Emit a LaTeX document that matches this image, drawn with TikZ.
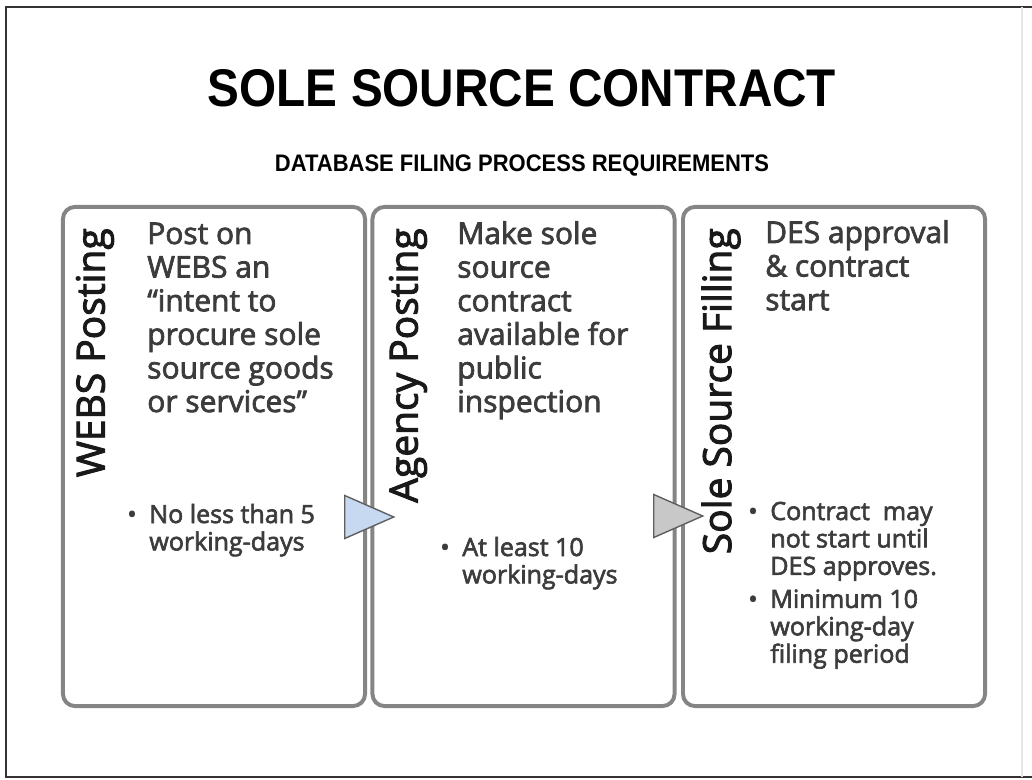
\documentclass[tikz,border=0pt]{standalone}
\usepackage{fontspec}
\setmainfont{Open Sans}
\newfontfamily\stepfont[FakeBold=2.5]{Open Sans}
\newfontfamily\headfont[FakeStretch=0.9]{Liberation Sans}
\newfontfamily\subheadfont[FakeStretch=0.92]{Liberation Sans}
\usetikzlibrary{shapes.geometric,positioning}
\definecolor{boxgray}{HTML}{858585}
\definecolor{textgray}{HTML}{3C3C3C}
\definecolor{tipblue}{HTML}{C6D9F1}
\definecolor{tipgray}{HTML}{C8C8C8}
\definecolor{tipline}{HTML}{5F5F5F}

\begin{document}
\begin{tikzpicture}
[x=0.025cm, y=-0.025cm,
  stepbox/.style={rectangle, rounded corners=0.3cm, minimum width=7.55cm, minimum height=12.475cm, draw=boxgray, line width=2.8pt},
  steplabel/.style={rotate=90, anchor=east, inner sep=0pt, text=black!90, font=\stepfont\fontsize{27.7}{30}\selectfont},
  steptext/.style={anchor=base west, inner sep=0pt, text=textgray, font=\stepfont\fontsize{21.3}{23.9}\selectfont},
  stepnote/.style={anchor=base west, inner sep=0pt, text=textgray, font=\stepfont\fontsize{17.8}{19.5}\selectfont},
  flowtip/.style={isosceles triangle, isosceles triangle stretches, minimum width=1.075cm, minimum height=1.225cm, inner sep=0pt, anchor=lower side, draw=tipline, line width=1pt}
]
  \useasboundingbox (0,0) rectangle (1032,780);
  \draw[line width=2pt, draw=black!80] (1032,7) -- (6,7) -- (6,777) -- (1032,777);
  \draw[line width=1pt, draw=black!10] (1022,7) -- (1022,777);

  \node[font=\headfont\bfseries\fontsize{37.7}{40}\selectfont, anchor=base] (title) at (522,107) {SOLE SOURCE CONTRACT};
  \node[font=\subheadfont\bfseries\fontsize{17}{20}\selectfont, anchor=base] (subtitle) at (522,172) {DATABASE FILING PROCESS REQUIREMENTS};

  \node[stepbox] (webs) at (214,456.5) {};
  \node[stepbox] (agency) at (523.5,456.5) {};
  \node[stepbox] (filing) at (834,456.5) {};

  \node[steplabel] (webslabel) at (95,228) {WEBS Posting};
  \node[steplabel] (agencylabel) at (408,228) {Agency Posting};
  \node[steplabel] (filinglabel) at (721,228) {Sole Source Filling};

  \node[steptext] (webstext) at (147,244) {\begin{tabular}[t]{@{}l@{}}Post on\\WEBS an\\“intent to\\procure sole\\source goods\\or services”\end{tabular}};
  \node[steptext] (agencytext) at (457,244) {\begin{tabular}[t]{@{}l@{}}Make sole\\source\\contract\\available for\\public\\inspection\end{tabular}};
  \node[steptext] (filingtext) at (765,243) {\begin{tabular}[t]{@{}l@{}}DES approval\\\& contract\\start\end{tabular}};

  \node[stepnote] (websnote) at (127,523) {\begin{tabular}[t]{@{}l@{\hspace{9pt}}l@{}}•&No less than 5\\&working-days\end{tabular}};
  \node[stepnote] (agencynote) at (440,556) {\begin{tabular}[t]{@{}l@{\hspace{9pt}}l@{}}•&At least 10\\&working-days\end{tabular}};
  \node[stepnote] (filingnote) at (748,520) {\begin{tabular}[t]{@{}l@{\hspace{9pt}}l@{}}•&Contract~ may\\&not start until\\&DES approves.\\[4pt]•&Minimum 10\\&working-day\\&filing period\end{tabular}};

  \node[flowtip, fill=tipblue] (tipA) at (344,517) {};
  \node[flowtip, fill=tipgray] (tipB) at (653,516) {};
\end{tikzpicture}
\end{document}
